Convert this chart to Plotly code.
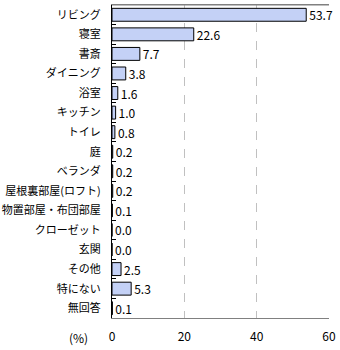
import plotly.graph_objects as go

categories = ["リビング", "寝室", "書斎", "ダイニング", "浴室", "キッチン", "トイレ", "庭",
              "ベランダ", "屋根裏部屋(ロフト)", "物置部屋・布団部屋", "クローゼット", "玄関",
              "その他", "特にない", "無回答"]
values = [53.7, 22.6, 7.7, 3.8, 1.6, 1.0, 0.8, 0.2, 0.2, 0.2, 0.1, 0.0, 0.0, 2.5, 5.3, 0.1]
labels = [f"{v:.1f}" for v in values]
x_ticks = [0, 20, 40, 60]

FONT = "Noto Sans CJK JP"

fig = go.Figure()
fig.add_trace(go.Bar(
    y=categories, x=values, orientation="h",
    marker=dict(color="#c4d1f6", line=dict(color="#000000", width=1)),
    width=0.66,
    text=labels, textposition="outside", cliponaxis=False, constraintext="none",
    textfont=dict(family=FONT, size=12, color="#000000"),
))

fig.update_layout(
    width=340, height=350,
    margin=dict(l=112, r=11, t=5, b=32),
    paper_bgcolor="white", plot_bgcolor="white",
    showlegend=False,
    font=dict(family=FONT, size=11, color="#000000"),
    xaxis=dict(range=[0, 60], tickvals=x_ticks, ticktext=[str(t) for t in x_ticks],
               showgrid=True, gridcolor="#c0c0c0", griddash="dash", gridwidth=1,
               zeroline=False, showline=True, linecolor="#808080", mirror=True,
               ticks="outside", ticklen=8, tickcolor="rgba(0,0,0,0)",
               tickfont=dict(family=FONT, size=12)),
    yaxis=dict(categoryorder="array", categoryarray=categories, autorange="reversed",
               showline=True, linecolor="#000000", ticks="inside", tickson="boundaries",
               ticklen=4, tickcolor="#000000", showgrid=False, automargin=False,
               tickfont=dict(family=FONT, size=11), ticklabelstandoff=8),
)
fig.add_annotation(text="(%)", xref="paper", yref="paper", x=-0.1, y=0,
                   yshift=-19, xanchor="right", yanchor="middle", showarrow=False,
                   font=dict(family=FONT, size=12))
fig.add_shape(type="line", xref="paper", yref="paper", x0=0, x1=1, y0=1, y1=1,
              line=dict(color="#808080", width=1))
fig.write_html("out.html")
